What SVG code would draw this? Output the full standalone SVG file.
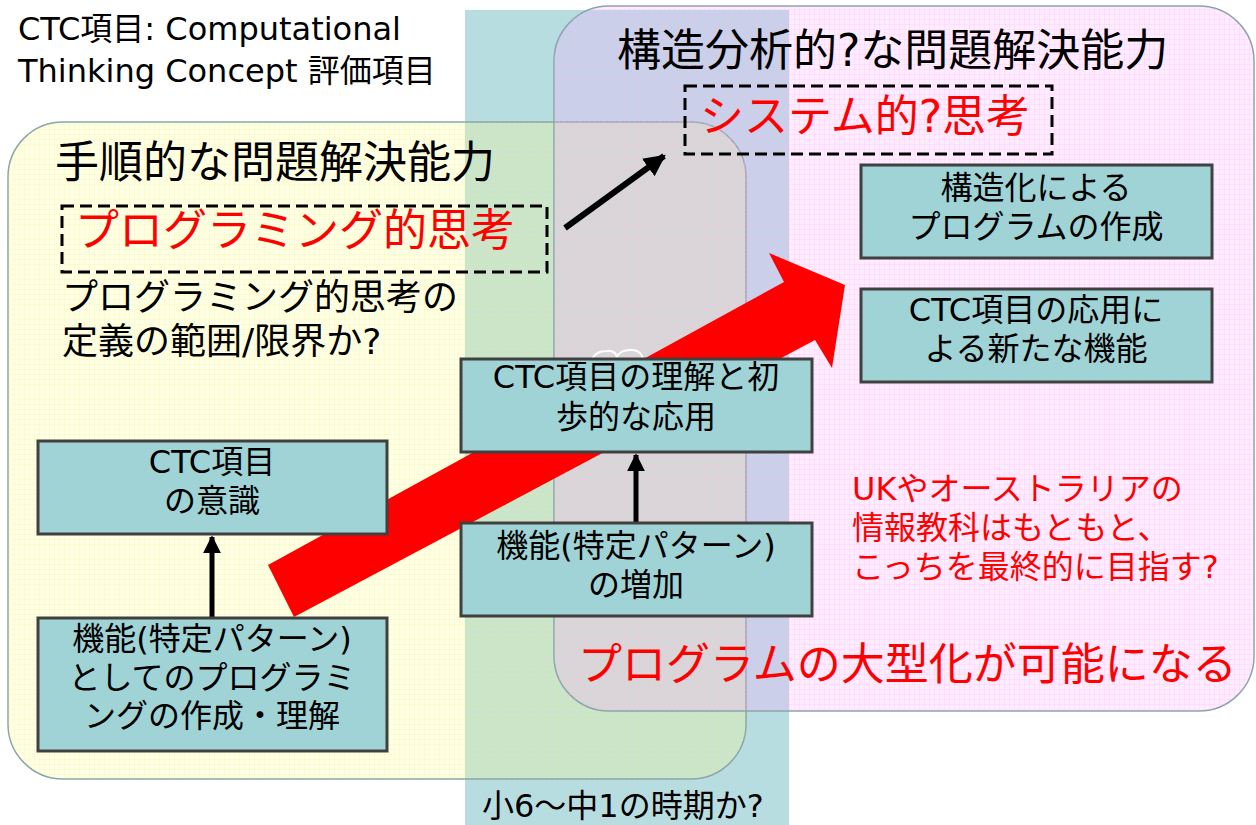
<svg xmlns="http://www.w3.org/2000/svg" width="1256" height="825" viewBox="0 0 1256 825">
<defs>
<style>
text{font-family:"DejaVu Sans","Noto Sans CJK JP",sans-serif;fill:#000}
.red{fill:#ff0000}
.box{fill:#9fd3d6;stroke:#404040;stroke-width:3}
.bt{font-size:32px;text-anchor:middle}
.dash{fill:none;stroke:#000;stroke-width:3;stroke-dasharray:12 6}
.area{stroke:#8aa5a8;stroke-width:1.5}
.conn{stroke:#000;fill:none}
</style>
<pattern id="gy" width="5" height="5" patternUnits="userSpaceOnUse">
<path d="M4.5 0V5M0 4.5H5" stroke="#f0f080" stroke-width="0.7" stroke-opacity="0.25"/>
</pattern>
<pattern id="gp" width="5" height="5" patternUnits="userSpaceOnUse">
<path d="M4.5 0V5M0 4.5H5" stroke="#f8b0f8" stroke-width="0.7" stroke-opacity="0.3"/>
</pattern>
<marker id="ah" viewBox="0 0 10 10" refX="9" refY="5" markerWidth="3.6" markerHeight="3.6" orient="auto" markerUnits="strokeWidth">
<path d="M0,0 L10,5 L0,10 Z" fill="#000"/>
</marker>
</defs>
<rect width="1256" height="825" fill="#ffffff"/>

<g id="period-band">
<rect x="465" y="10" width="324" height="815" fill="#b8dde0"/>
<text x="482" y="817" font-size="32">小6〜中1の時期か?</text>
</g>

<g id="area-procedural">
<rect class="area" x="8" y="122" width="738" height="657" rx="55" fill="#ffff96" fill-opacity="0.25"/>
<rect x="8" y="122" width="738" height="657" rx="55" fill="url(#gy)"/>
</g>

<g id="area-structural">
<rect class="area" x="554" y="6" width="700" height="705" rx="55" fill="#ffaaff" fill-opacity="0.22"/>
<rect x="554" y="6" width="700" height="705" rx="55" fill="url(#gp)"/>
</g>

<g id="title">
<text x="18" y="40" font-size="32">CTC項目: Computational</text>
<text x="18" y="82" font-size="32">Thinking Concept 評価項目</text>
</g>

<g id="label-structural">
<text x="617" y="66" font-size="44">構造分析的?な問題解決能力</text>
<rect class="dash" x="685" y="86" width="367" height="68"/>
<text class="red" x="700" y="132" font-size="44">システム的?思考</text>
</g>

<g id="label-procedural">
<text x="55" y="178" font-size="44">手順的な問題解決能力</text>
<rect class="dash" x="62" y="206" width="485" height="66"/>
<text class="red" x="75" y="246" font-size="44">プログラミング的思考</text>
<text x="62" y="310" font-size="36">プログラミング的思考の</text>
<text x="62" y="354" font-size="36">定義の範囲/限界か?</text>
</g>

<g id="big-arrow">
<polygon points="268,565 784,282 769,253 845,285 832,368 815,340 294,617" fill="#ff0000"/>
<path d="M592,361 Q594,351 607,351 Q615,350 617,357 Q620,349 633,350 Q642,351 643,360" fill="none" stroke="#ffffff" stroke-width="2"/>
</g>

<g id="connectors">
<line class="conn" x1="565" y1="228" x2="664" y2="156" stroke-width="6" marker-end="url(#ah)"/>
<line class="conn" x1="212" y1="617" x2="212" y2="537" stroke-width="5" marker-end="url(#ah)"/>
<line class="conn" x1="636" y1="523" x2="636" y2="455" stroke-width="5" marker-end="url(#ah)"/>
</g>

<g id="node-structured">
<rect class="box" x="861" y="165" width="351" height="93"/>
<text class="bt" x="1036" y="199">構造化による</text>
<text class="bt" x="1036" y="238">プログラムの作成</text>
</g>

<g id="node-new-function">
<rect class="box" x="861" y="289" width="351" height="93"/>
<text class="bt" x="1036" y="321">CTC項目の応用に</text>
<text class="bt" x="1036" y="360">よる新たな機能</text>
</g>

<g id="node-understanding">
<rect class="box" x="461" y="359" width="351" height="93"/>
<text class="bt" x="636" y="388">CTC項目の理解と初</text>
<text class="bt" x="636" y="428">歩的な応用</text>
</g>

<g id="node-increase">
<rect class="box" x="461" y="523" width="351" height="93"/>
<text class="bt" x="636" y="557">機能(特定パターン)</text>
<text class="bt" x="636" y="596">の増加</text>
</g>

<g id="node-awareness">
<rect class="box" x="38" y="441" width="349" height="93"/>
<text class="bt" x="212" y="473">CTC項目</text>
<text class="bt" x="212" y="512">の意識</text>
</g>

<g id="node-programming">
<rect class="box" x="38" y="618" width="349" height="133"/>
<text class="bt" x="212" y="650">機能(特定パターン)</text>
<text class="bt" x="212" y="689">としてのプログラミ</text>
<text class="bt" x="212" y="727">ングの作成・理解</text>
</g>

<g id="note-uk">
<text class="red" x="852" y="500" font-size="32">UKやオーストラリアの</text>
<text class="red" x="852" y="539" font-size="32">情報教科はもともと、</text>
<text class="red" x="852" y="578" font-size="32">こっちを最終的に目指す?</text>
</g>

<g id="note-large">
<text class="red" x="578" y="680" font-size="44">プログラムの大型化が可能になる</text>
</g>
</svg>
